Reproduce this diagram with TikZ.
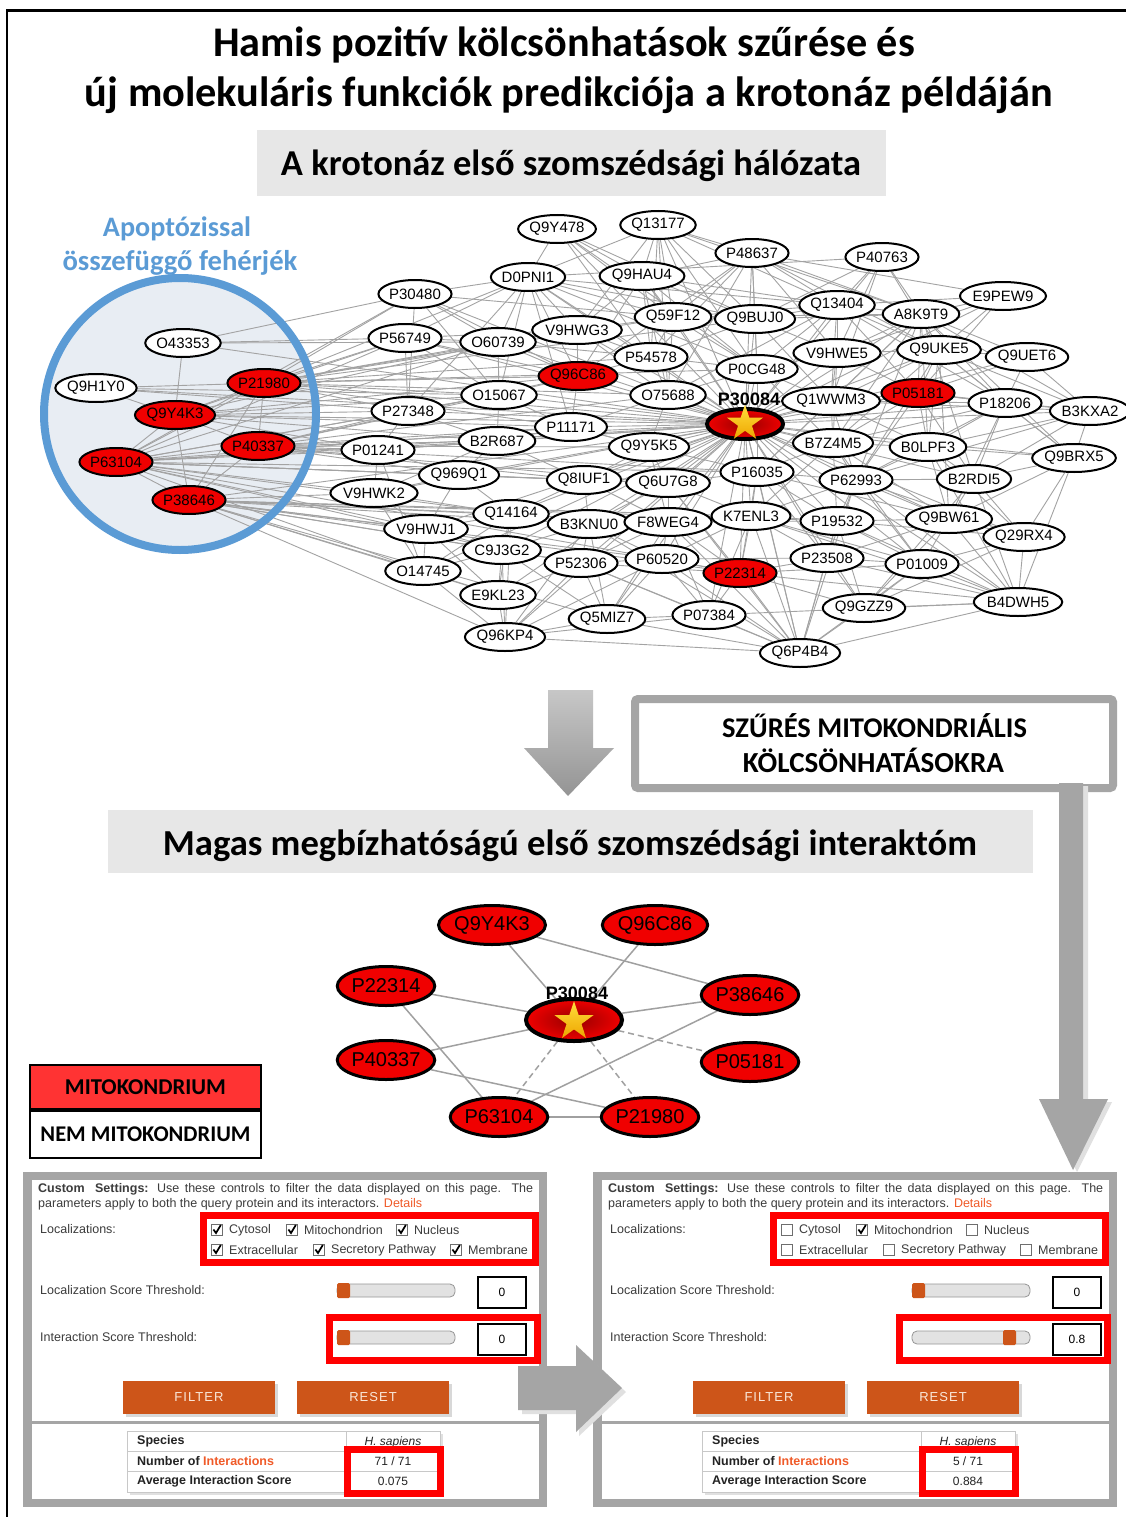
\documentclass[tikz,border=0pt]{standalone}
\usepackage{fontspec}
\usepackage{graphicx}
\setmainfont{Liberation Sans}
\newfontfamily\headfont{Carlito}
\usetikzlibrary{shapes.geometric,shadows}

\definecolor{nodered}{RGB}{240,0,0}
\definecolor{hubdark}{RGB}{150,0,0}
\definecolor{staryellow}{RGB}{255,222,60}
\definecolor{starorange}{RGB}{238,165,0}
\definecolor{edgegray}{RGB}{163,163,163}
\definecolor{keygray}{RGB}{160,160,160}
\definecolor{ringblue}{RGB}{91,155,213}
\definecolor{circfill}{RGB}{232,237,243}
\definecolor{bandgray}{RGB}{231,231,231}
\definecolor{framegray}{RGB}{165,165,165}
\definecolor{arrowgray}{RGB}{165,165,165}
\definecolor{legendred}{RGB}{255,51,51}
\definecolor{btnorange}{RGB}{205,85,25}
\definecolor{btntext}{RGB}{250,232,218}
\definecolor{uitxt}{RGB}{60,60,60}
\definecolor{uitxtb}{RGB}{35,35,35}
\definecolor{linkorange}{RGB}{240,90,40}
\definecolor{hlred}{RGB}{255,0,0}
\definecolor{slgray}{RGB}{150,150,150}
\definecolor{sltrack}{RGB}{226,226,226}
\definecolor{cbgray}{RGB}{110,110,110}
\definecolor{tblgray}{RGB}{200,200,200}

\pgfdeclarelayer{back}
\pgfdeclarelayer{edgelayer}
\pgfsetlayers{back,edgelayer,main}

% bold Carlito headline stretched to a given width
\newcommand\fitw[2]{\resizebox{#1}{!}{\headfont\bfseries #2}}
% one spoke set: edges from #1 to every node in #2
\newcommand\fan[2]{\foreach \t in {#2}{\draw[netedge] (#1) -- (\t);}}
% checkbox with label: name, x, y, checked (1/0), label
\newcommand\checkitem[5]{%
  \node[cbx] (#1) at (#2,#3) {};
  \ifnum#4=1 \draw[checkmark] (#2-3.6,#3-0.5) -- (#2-1,#3+3) -- (#2+3.8,#3-5);\fi
  \node[uitext] (#1t) at (#2+12,#3) {#5};}

\tikzset{
  prot/.style={ellipse, draw=black, line width=2, fill=white, minimum width=72,
    minimum height=28, inner sep=0, font=\fontsize{15}{15}\selectfont},
  mito/.style={prot, fill=nodered},
  hubnode/.style={ellipse, draw=black, line width=4, inner color=hubdark,
    outer color=nodered, inner sep=0},
  starnode/.style={star, star points=5, star point ratio=2.6, inner sep=0,
    top color=staryellow, bottom color=starorange, draw=none},
  hublabel/.style={font=\bfseries\fontsize{18}{18}\selectfont, anchor=base, inner sep=0},
  bigprot/.style={ellipse, draw=black, line width=3, fill=nodered, minimum width=95,
    minimum height=39, inner sep=0, font=\fontsize{20}{20}\selectfont},
  netedge/.style={draw=edgegray, line width=0.9},
  keyedge/.style={draw=keygray, line width=1.5},
  weakedge/.style={keyedge, dash pattern=on 6pt off 4pt},
  heading/.style={anchor=base, inner sep=0},
  uitext/.style={anchor=west, inner sep=0, text=uitxt, font=\fontsize{12.5}{13}\selectfont},
  tbltext/.style={anchor=west, inner sep=0, text=uitxtb, font=\bfseries\fontsize{12.5}{13}\selectfont},
  tblval/.style={inner sep=0, text=uitxtb, font=\fontsize{12}{13}\selectfont},
  cbx/.style={draw=cbgray, fill=white, line width=0.8, minimum size=11, inner sep=0},
  checkmark/.style={black, line width=1.7},
  btn/.style={fill=btnorange, text=btntext, minimum width=152, minimum height=33, inner sep=0,
    font=\fontsize{13}{13}\selectfont\addfontfeature{LetterSpace=8},
    drop shadow={opacity=0.3, shadow xshift=3pt, shadow yshift=-3pt}},
  valbox/.style={draw=black, line width=1.4, fill=white, minimum width=48,
    minimum height=31, inner sep=0, font=\fontsize{12}{12}\selectfont},
  hlbox/.style={draw=hlred, line width=7},
  sliderbar/.style={draw=slgray, fill=sltrack, line width=0.8, rounded corners=5},
  knob/.style={fill=btnorange, rounded corners=1.5},
  panelframe/.style={draw=framegray, line width=8.5, fill=white},
  legendbox/.style={draw=black, line width=2, minimum width=231, inner sep=0},
}

% settings panel of the web tool: prefix, shift, six checkbox states, knob position
% (\valtxt, \numtxt, \avgtxt and \rs are set before each use)
\newcommand\uipanel[9]{%
\begin{scope}[xshift=#2]
  \draw[panelframe] (27.5,1176) rectangle (543,1503);
  \draw[draw=framegray, line width=3] (32,1422) -- (539,1422);
  \node[uitext] (#1cs1) at (38,1189) {\makebox[495pt][s]{\textbf{Custom}\hspace{5pt} \textbf{Settings:} Use these controls to filter the data displayed on this page. The}};
  \node[uitext] (#1cs2) at (38,1204) {parameters apply to both the query protein and its interactors. \textcolor{linkorange}{Details}};
  \node[uitext] (#1loc) at (40,1229) {Localizations:};
  \checkitem{#1cyt}{217}{1230}{#3}{Cytosol}
  \checkitem{#1mit}{292}{1230}{#4}{Mitochondrion}
  \checkitem{#1nuc}{402}{1230}{#5}{Nucleus}
  \checkitem{#1ext}{217}{1250}{#6}{Extracellular}
  \checkitem{#1sec}{319}{1250}{#7}{Secretory Pathway}
  \checkitem{#1mem}{456}{1250}{#8}{Membrane}
  \draw[hlbox] (203.5,1215.5) rectangle (535.5,1262.5);
  \node[uitext] (#1lst) at (40,1290) {Localization Score Threshold:};
  \node[uitext] (#1ist) at (40,1337) {Interaction Score Threshold:};
  \begin{scope}[xshift=\rs]
    \draw[sliderbar] (337,1284) rectangle (455,1297);
    \fill[knob] (337,1283) rectangle (350,1298);
    \node[valbox] (#1lv) at (502,1292.5) {0};
    \draw[sliderbar] (337,1331) rectangle (455,1344);
    \fill[knob] (#9,1330) rectangle (#9+13,1345);
    \node[valbox] (#1iv) at (502,1339.5) {\valtxt};
  \end{scope}
  \draw[hlbox] (329.5,1317.5) rectangle (537.5,1360.5);
  \node[btn] (#1filter) at (199,1397) {FILTER};
  \node[btn] (#1reset) at (373,1397) {RESET};
  \begin{scope}[xshift=\rs]
    \fill[black!12] (130,1434) rectangle (443,1495);
    \draw[draw=tblgray, fill=white, line width=1] (127,1431) rectangle (440,1492);
    \draw[draw=tblgray, line width=1] (127,1451) -- (440,1451) (127,1471) -- (440,1471) (346,1431) -- (346,1492);
    \node[tbltext] (#1sp) at (137,1441) {Species};
    \node[tblval, font=\itshape\fontsize{12}{13}\selectfont] (#1hs) at (393,1442) {H. sapiens};
    \node[tbltext] (#1ni) at (137,1461) {Number of \textcolor{linkorange}{Interactions}};
    \node[tblval] (#1nv) at (393,1461) {\numtxt};
    \node[tbltext] (#1ai) at (137,1481) {Average Interaction Score};
    \node[tblval] (#1av) at (393,1481) {\avgtxt};
    \draw[hlbox] (347.5,1449.5) rectangle (440.5,1493.5);
  \end{scope}
\end{scope}}

\begin{document}
\begin{tikzpicture}[x=1pt,y=-1pt]
\useasboundingbox (0,0) rectangle (1126,1517);
\begin{pgfonlayer}{back}
  \fill[white] (0,0) rectangle (1126,1517);
  \fill[circfill] (180,414) circle[radius=136pt];
\end{pgfonlayer}
\draw[black, line width=2.5] (7,1517) -- (7,10.5) -- (1126,10.5);

% ---------- headings ----------
\node[heading] (title1) at (564,57) {\fitw{702pt}{Hamis pozitív kölcsönhatások szűrése és}};
\node[heading] (title2) at (569,107) {\fitw{968pt}{új molekuláris funkciók predikciója a krotonáz példáján}};
\fill[bandgray] (257,130) rectangle (886,196);
\node[heading] (band1) at (571,176) {\fitw{580pt}{A krotonáz első szomszédsági hálózata}};
\node[heading, text=ringblue] (apo1) at (177,236) {\fitw{148pt}{Apoptózissal}};
\node[heading, text=ringblue] (apo2) at (180,270) {\fitw{235pt}{összefüggő fehérjék}};

% ---------- first-neighbour network ----------
\draw[ringblue, line width=8] (180,414) circle[radius=136pt];

\foreach \n/\x/\y in {Q9Y478/557/229, Q13177/658/225, P48637/752/253, P40763/882/257,
  D0PNI1/528/277, Q9HAU4/642/276, E9PEW9/1003/296, P30480/415/294, Q59F12/673/317,
  Q9BUJ0/755/319, Q13404/837/305, A8K9T9/921/314, V9HWG3/577/330, P56749/405/338,
  O60739/498/342, V9HWE5/837/353, Q9UKE5/939/350, Q9UET6/1027/357, P54578/651/357,
  P0CG48/757/369, O15067/499/395, O75688/668/395, Q1WWM3/831/401, P18206/1005/403,
  B3KXA2/1090/411, P27348/408/411, P11171/571/427, B2R687/497/441, Q9Y5K5/649/447,
  B7Z4M5/833/443, B0LPF3/928/447, Q9BRX5/1074/458, P01241/378/450, P16035/757/472,
  Q969Q1/459/475, Q8IUF1/584/480, Q6U7G8/668/483, P62993/856/480, B2RDI5/974/479,
  V9HWK2/374/493, Q14164/511/514, B3KNU0/589/524, F8WEG4/668/522, K7ENL3/751/516,
  P19532/837/521, Q9BW61/949/519, Q29RX4/1024/537, V9HWJ1/426/529, C9J3G2/502/550,
  P52306/581/563, P60520/662/559, P23508/827/558, P01009/922/564, O14745/423/571,
  E9KL23/498/595, B4DWH5/1018/602, Q5MIZ7/607/619, P07384/709/615, Q9GZZ9/864/608,
  Q96KP4/505/637, Q6P4B4/800/653, O43353/183/343, Q9H1Y0/96/388}
  {\node[prot] (\n) at (\x,\y) {\n};}
\foreach \n/\x/\y in {Q96C86/578/376, P05181/918/393, P22314/740/573, P21980/264/383,
  Q9Y4K3/175/415, P40337/258/446, P63104/116/462, P38646/189/500}
  {\node[mito] (\n) at (\x,\y) {\n};}
\node[hubnode, minimum width=76, minimum height=30] (P30084) at (745,424) {};
\node[starnode, minimum size=38] (starA) at (745,423.5) {};
\node[hublabel] (P30084lbl) at (749,405) {P30084};

\begin{pgfonlayer}{edgelayer}
  \fan{P30084}{Q9Y478,Q13177,P48637,P40763,D0PNI1,Q9HAU4,E9PEW9,P30480,Q59F12,Q9BUJ0,
    Q13404,A8K9T9,V9HWG3,P56749,O60739,V9HWE5,Q9UKE5,Q9UET6,P54578,Q96C86,P0CG48,O15067,
    O75688,Q1WWM3,P05181,P18206,B3KXA2,P27348,P11171,B2R687,Q9Y5K5,B7Z4M5,B0LPF3,Q9BRX5,
    P01241,P16035,Q969Q1,Q8IUF1,Q6U7G8,P62993,B2RDI5,V9HWK2,Q14164,B3KNU0,F8WEG4,K7ENL3,
    P19532,Q9BW61,Q29RX4,V9HWJ1,C9J3G2,P52306,P60520,P22314,P23508,P01009,O14745,E9KL23,
    B4DWH5,Q5MIZ7,P07384,Q9GZZ9,Q96KP4,Q6P4B4,O43353,Q9H1Y0,P21980,Q9Y4K3,P40337,P63104,P38646}
  % apoptosis-related proteins
  \fan{O43353}{Q9Y4K3,P56749,P30480,O60739}
  \fan{Q9H1Y0}{P21980,Q9Y4K3,P27348,O15067}
  \fan{Q9Y4K3}{P21980,P40337,P38646,P63104,P56749,P27348,O60739,O15067,P11171,Q96C86,B2R687,P01241}
  \fan{P21980}{P40337,P63104,P38646,P56749,P30480,O60739,D0PNI1,V9HWG3,Q96C86,P54578,O15067,
    P27348,P11171,Q59F12,Q9BUJ0,P0CG48,O75688}
  \fan{P40337}{P63104,P38646,P01241,P27348,Q969Q1,B2R687,P11171,O15067,Q96C86,Q9Y5K5,O75688,
    Q8IUF1,P16035,Q6U7G8}
  \fan{P63104}{P38646,P30480,P56749,O60739,P27348,P01241,V9HWK2,V9HWJ1,Q14164,B2R687,Q969Q1,
    O15067,P11171,Q8IUF1,P22314,Q6U7G8,P16035,O14745,C9J3G2}
  \fan{P38646}{V9HWK2,V9HWJ1,O14745,Q14164,C9J3G2,E9KL23,B3KNU0,P52306,P60520,P22314,F8WEG4,
    K7ENL3,Q96KP4,P19532,Q5MIZ7}
  % remaining interactions
  \fan{Q9Y478}{D0PNI1,Q9HAU4,Q59F12,P54578,Q9BUJ0,P0CG48}
  \fan{Q13177}{D0PNI1,Q9HAU4,Q59F12,Q9BUJ0,P48637,P0CG48,O75688,Q13404,A8K9T9,P54578,V9HWG3}
  \fan{P48637}{Q59F12,Q9BUJ0,Q13404,A8K9T9,P0CG48,V9HWE5,P54578,Q96C86,O75688,Q9HAU4,E9PEW9,Q9UKE5}
  \fan{P40763}{Q13404,A8K9T9,Q9BUJ0,V9HWE5,Q9UKE5,Q1WWM3,D0PNI1}
  \fan{D0PNI1}{P30480,P56749,O60739,V9HWG3,Q96C86,O15067,P54578,Q59F12,Q9BUJ0,P0CG48,Q13404,P27348,P11171}
  \fan{Q9HAU4}{V9HWG3,Q59F12,P54578,Q96C86,Q9BUJ0,P0CG48,Q13404,O75688}
  \fan{E9PEW9}{A8K9T9,Q13404,Q9UKE5,P05181,V9HWE5}
  \fan{P30480}{O60739,O15067,P27348,Q96C86,Q59F12}
  \fan{A8K9T9}{Q59F12,Q9BUJ0,Q13404,V9HWE5,Q9UKE5,Q1WWM3,P05181,P18206,B3KXA2,Q9UET6,B7Z4M5,
    B0LPF3,P62993,P16035,Q9BRX5,B2RDI5}
  \fan{Q13404}{Q9BUJ0,Q59F12,V9HWE5,P0CG48,Q1WWM3,Q9UKE5,P05181,P18206,O75688}
  \fan{Q9UKE5}{V9HWE5,Q1WWM3,P05181,P18206,B3KXA2,Q9UET6,B7Z4M5,B0LPF3,Q9BRX5,P62993,Q9BW61}
  \fan{Q9UET6}{P18206,B3KXA2,P05181}
  \fan{B3KXA2}{P18206,Q9BRX5,B0LPF3,B2RDI5,P05181,Q1WWM3,P62993}
  \fan{Q9BRX5}{B2RDI5,B0LPF3,Q29RX4,B4DWH5,P18206,Q9BW61}
  \fan{P18206}{B0LPF3,B2RDI5,P62993,B7Z4M5,Q1WWM3,Q9BW61,P05181}
  \fan{B4DWH5}{Q29RX4,Q9BW61,B2RDI5,P01009,P23508,P19532,Q9GZZ9,Q6P4B4,P62993,B0LPF3,K7ENL3,P22314,P07384}
  \fan{Q6P4B4}{P22314,P07384,Q5MIZ7,P60520,P52306,Q9GZZ9,P23508,K7ENL3,P16035,P19532,F8WEG4,
    B3KNU0,Q6U7G8,P01009,Q96KP4,P62993}
  \fan{Q9GZZ9}{P01009,P23508,P19532,Q9BW61,Q29RX4,P22314,B2RDI5}
  \fan{Q29RX4}{Q9BW61,B2RDI5,P01009,P62993,B0LPF3,P19532}
  \fan{Q9BW61}{B2RDI5,P62993,B0LPF3,P19532,P23508,P01009,B7Z4M5,P16035}
  \fan{P01009}{P23508,P19532,P62993,P22314,K7ENL3,B7Z4M5}
  \fan{P23508}{P22314,P19532,K7ENL3,P62993,P60520,P16035}
  \fan{P19532}{K7ENL3,P62993,B7Z4M5,P16035,F8WEG4}
  \fan{Q96KP4}{E9KL23,C9J3G2,P52306,Q5MIZ7,O14745,Q14164,B3KNU0,P07384,P60520}
  \fan{E9KL23}{O14745,C9J3G2,P52306,Q14164,V9HWJ1}
  \fan{O14745}{V9HWJ1,C9J3G2,Q14164,V9HWK2,P01241}
  \fan{Q5MIZ7}{P52306,P60520,P07384,C9J3G2,B3KNU0,F8WEG4}
  \fan{P07384}{P60520,P22314,K7ENL3,F8WEG4,P52306}
  \fan{P22314}{P60520,K7ENL3,F8WEG4,P16035,P52306,Q6U7G8}
  \fan{V9HWK2}{Q969Q1,P01241,V9HWJ1,Q14164,B2R687}
  \fan{V9HWJ1}{Q14164,C9J3G2,Q969Q1}
  \fan{Q969Q1}{B2R687,Q14164,Q8IUF1,P01241}
  \fan{P56749}{O60739,P27348,O15067,V9HWG3,Q96C86}
  \fan{O60739}{V9HWG3,O15067,Q96C86,P54578}
  \fan{V9HWG3}{Q96C86,P54578,Q59F12,O75688}
  \fan{P54578}{Q96C86,O75688,P0CG48,Q59F12,Q9BUJ0}
  \fan{Q59F12}{Q9BUJ0,P0CG48,O75688}
  \fan{Q9BUJ0}{P0CG48,V9HWE5,Q1WWM3}
  \fan{P0CG48}{O75688,Q1WWM3,V9HWE5,P16035,B7Z4M5}
  \fan{V9HWE5}{Q1WWM3,P05181,B7Z4M5}
  \fan{Q1WWM3}{P05181,B7Z4M5,B0LPF3,P62993,P16035}
  \fan{P05181}{B0LPF3,B7Z4M5,P62993,B2RDI5,P18206}
  \fan{B7Z4M5}{P16035,P62993,B0LPF3,K7ENL3}
  \fan{B0LPF3}{P62993,B2RDI5}
  \fan{P62993}{B2RDI5,K7ENL3,P16035}
  \fan{P16035}{K7ENL3,Q6U7G8,Q9Y5K5}
  \fan{Q6U7G8}{Q8IUF1,Q9Y5K5,F8WEG4,B3KNU0,K7ENL3}
  \fan{Q8IUF1}{Q9Y5K5,B3KNU0,F8WEG4,Q14164,B2R687}
  \fan{Q9Y5K5}{P11171,O75688,F8WEG4}
  \fan{P11171}{B2R687,O15067,Q96C86,O75688,Q9Y5K5}
  \fan{O15067}{Q96C86,B2R687,P27348}
  \fan{B2R687}{P27348,P01241}
  \fan{B3KNU0}{Q14164,C9J3G2,F8WEG4,P52306,P60520}
  \fan{F8WEG4}{P60520,K7ENL3,P52306}
  \fan{P60520}{P52306,K7ENL3}
  \fan{C9J3G2}{Q14164,P52306}
  \fan{P27348}{P01241}
\end{pgfonlayer}

% ---------- filtering step ----------
\shade[top color=black!22, bottom color=black!42] (548,690) -- (593,690) -- (593,748) -- (614,748)
  -- (568,796) -- (524,748) -- (548,748) -- cycle;
\draw[draw=framegray, line width=8, rounded corners=3, fill=white] (635,699) rectangle (1113,788);
\node[heading] (filt1) at (874.5,737) {\fitw{305pt}{SZŰRÉS MITOKONDRIÁLIS}};
\node[heading] (filt2) at (873.5,772) {\fitw{261pt}{KÖLCSÖNHATÁSOKRA}};
\fill[black!12] (1064,786) -- (1088,786) -- (1088,1102) -- (1112,1102) -- (1077,1172) -- (1044,1102)
  -- (1064,1102) -- cycle;
\fill[arrowgray] (1059,783) -- (1083,783) -- (1083,1099) -- (1108,1099) -- (1073,1170) -- (1039,1099)
  -- (1059,1099) -- cycle;

% ---------- high-confidence interactome ----------
\fill[bandgray] (108,810) rectangle (1033,873);
\node[heading] (band2) at (570,855) {\fitw{814pt}{Magas megbízhatóságú első szomszédsági interaktóm}};

\node[bigprot] (fQ9Y4K3) at (492,925) {Q9Y4K3};
\node[bigprot] (fQ96C86) at (655,925) {Q96C86};
\node[bigprot] (fP22314) at (386,986) {P22314};
\node[bigprot] (fP38646) at (750,995) {P38646};
\node[bigprot] (fP40337) at (386,1060) {P40337};
\node[bigprot] (fP05181) at (750,1062) {P05181};
\node[bigprot] (fP63104) at (499,1117) {P63104};
\node[bigprot] (fP21980) at (650,1117) {P21980};
\node[hubnode, minimum width=96, minimum height=42] (fP30084) at (574,1020) {};
\node[starnode, minimum size=41] (starB) at (574,1021.5) {};
\node[hublabel] (fP30084lbl) at (577,999) {P30084};
\begin{pgfonlayer}{edgelayer}
  \foreach \t in {fQ9Y4K3,fQ96C86,fP22314,fP38646,fP40337}{\draw[keyedge] (fP30084) -- (\t);}
  \foreach \t in {fP05181,fP63104,fP21980}{\draw[weakedge] (fP30084) -- (\t);}
  \draw[keyedge] (fQ9Y4K3) -- (fP38646);
  \draw[keyedge] (fP22314) -- (fP63104);
  \draw[keyedge] (fP40337) -- (fP21980);
  \draw[keyedge] (fP38646) -- (fP63104);
  \draw[keyedge] (fP63104) -- (fP21980);
\end{pgfonlayer}

% ---------- legend ----------
\node[legendbox, fill=legendred, minimum height=44, anchor=north west] (legmito) at (29,1064)
  {\fitw{161pt}{MITOKONDRIUM}};
\node[legendbox, fill=white, minimum height=47, anchor=north west] (legother) at (29,1110)
  {\fitw{210pt}{NEM MITOKONDRIUM}};

% ---------- settings panels ----------
\def\rs{0}\def\valtxt{0}\def\numtxt{71 / 71}\def\avgtxt{0.075}
\uipanel{L}{0}{1}{1}{1}{1}{1}{1}{337}
\def\rs{5}\def\valtxt{0.8}\def\numtxt{5 / 71}\def\avgtxt{0.884}
\uipanel{R}{570}{0}{1}{0}{0}{0}{0}{428}

\fill[black!12] (522,1369) -- (579,1369) -- (579,1349) -- (626,1392) -- (579,1436) -- (579,1414)
  -- (522,1414) -- cycle;
\fill[arrowgray] (518,1366) -- (576,1366) -- (576,1345) -- (622,1388) -- (576,1432) -- (576,1410)
  -- (518,1410) -- cycle;
\end{tikzpicture}
\end{document}
